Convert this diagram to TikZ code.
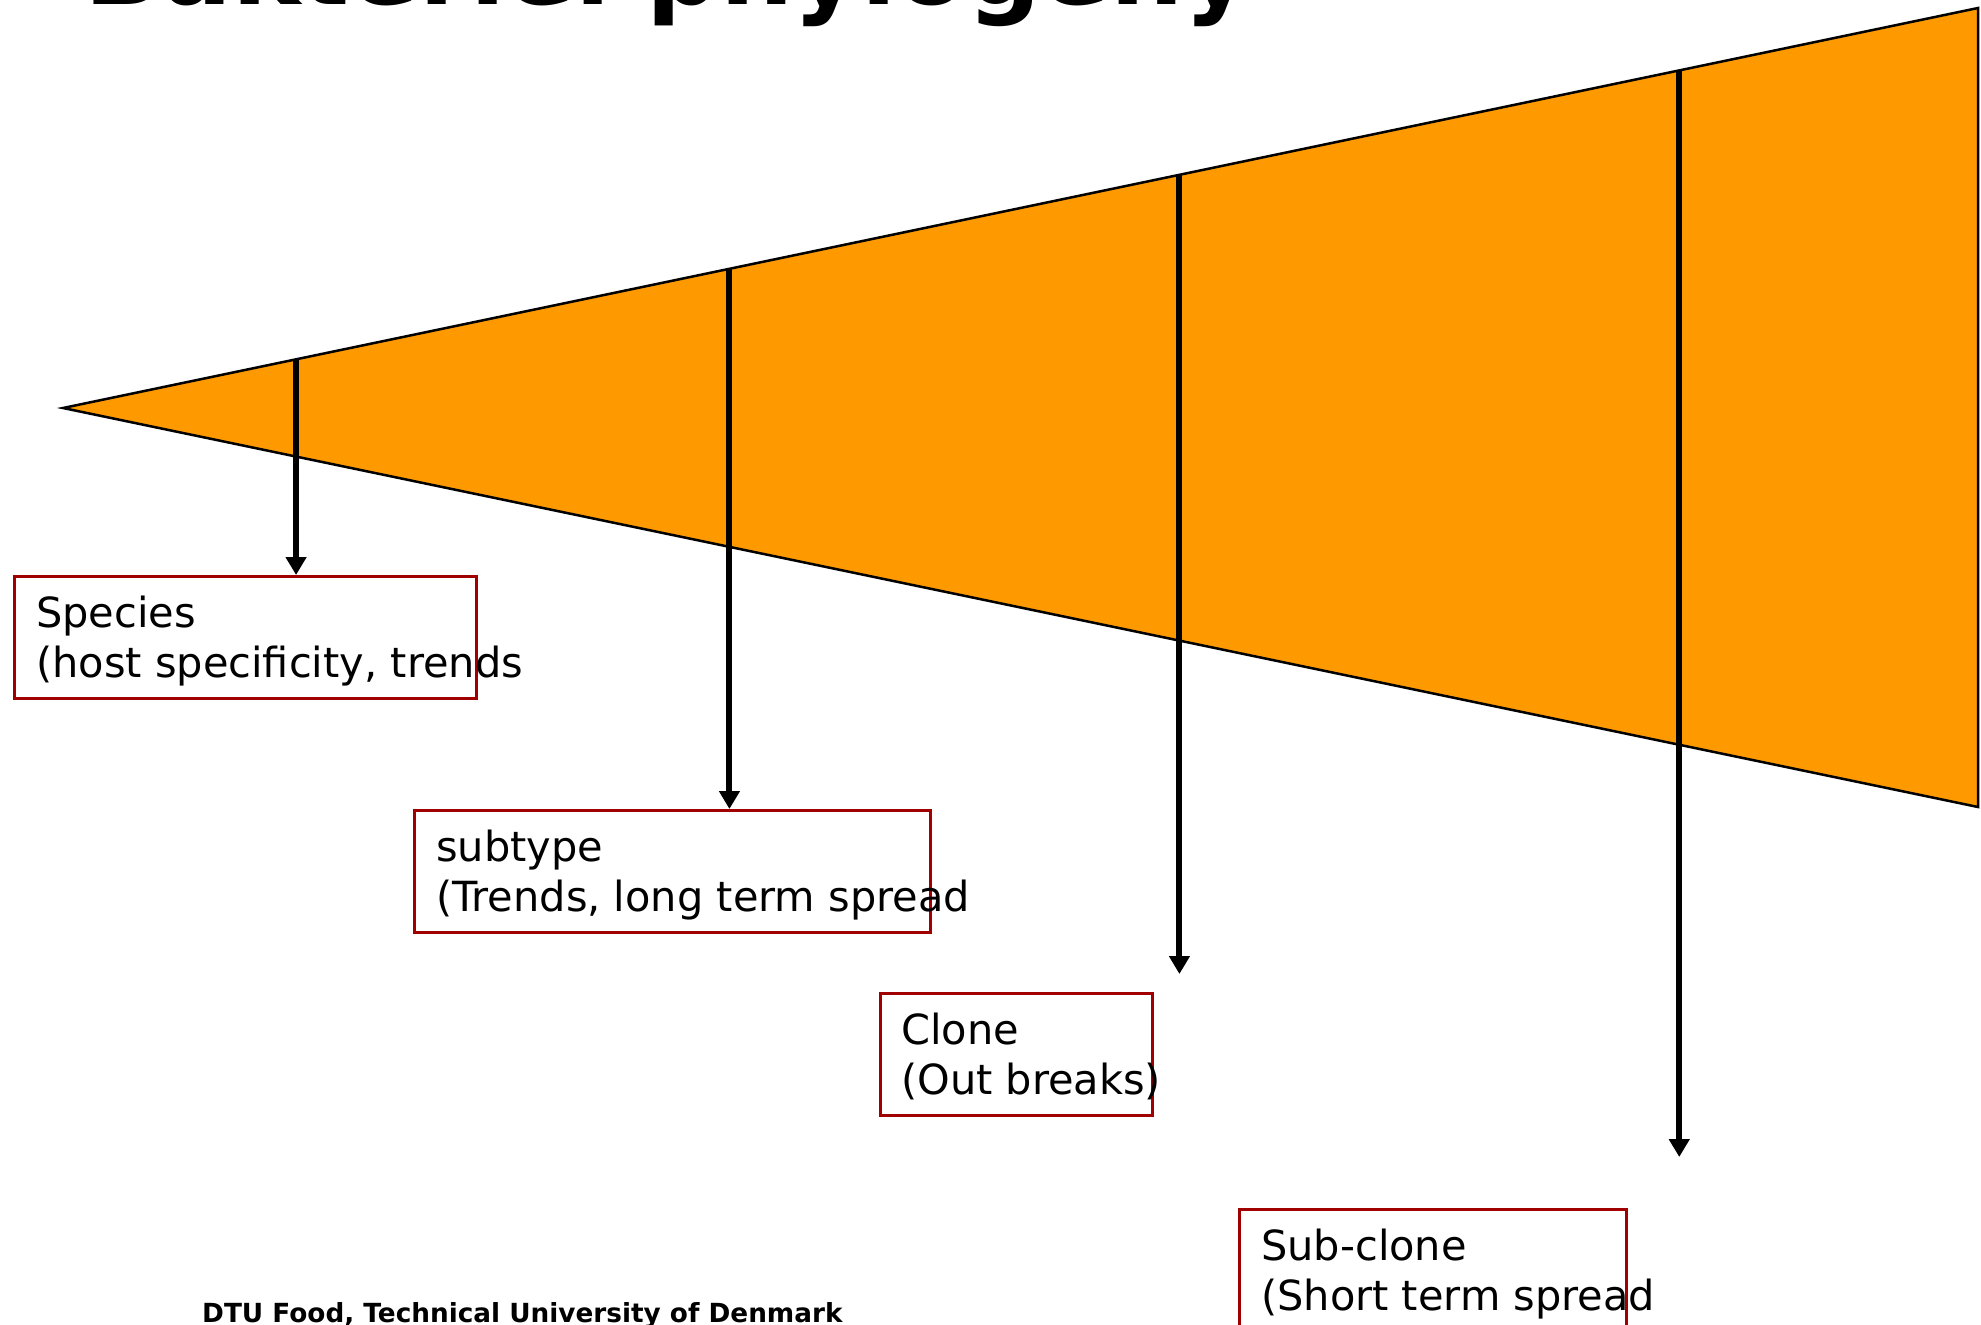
\documentclass[tikz,border=0pt]{standalone}
\usepackage{fontspec}
\setmainfont{DejaVu Sans}
\usetikzlibrary{arrows.meta,calc}
\definecolor{conefill}{RGB}{255,153,0}
\definecolor{boxred}{RGB}{160,0,0}

\begin{document}
\begin{tikzpicture}[x=1pt,y=-1pt,
    level/.style={draw=boxred,line width=2.5pt,fill=white,minimum height=122pt,inner sep=0pt,anchor=north west},
    leveltext/.style={anchor=base west,align=left,inner sep=0pt,font=\fontsize{41.5}{50}\selectfont},
    cut/.style={line width=6pt,-{Triangle[width=20pt,length=18pt]}}]

    \clip (0,0) rectangle (1981,1325);

    \node[anchor=base west,inner sep=0pt,font=\fontsize{103}{110}\selectfont\bfseries] (title) at (84,5) {Bakteriel phylogeny};

    % the cone
    \coordinate (apex) at (63,408);
    \coordinate (top) at (1978,8);
    \coordinate (bottom) at (1978,807);
    \filldraw[fill=conefill,draw=black,line width=2.5pt] (apex) -- (top) -- (bottom) -- cycle;

    \node[level,minimum width=462pt] (species) at (13,575) {};
    \node[level,minimum width=516pt] (subtype) at (413,809) {};
    \node[level,minimum width=272pt] (clone) at (879,992) {};
    \node[level,minimum width=387pt] (subclone) at (1238,1208) {};

    \node[leveltext] (speciestext) at ($(species.north west)+(23,102)$) {Species\\(host specificity, trends};
    \node[leveltext] (subtypetext) at ($(subtype.north west)+(23,102)$) {subtype\\(Trends, long term spread};
    \node[leveltext] (clonetext) at ($(clone.north west)+(22,102)$) {Clone\\(Out breaks)};
    \node[leveltext] (subclonetext) at ($(subclone.north west)+(23,102)$) {Sub-clone\\(Short term spread};

    % cuts through the cone
    \coordinate (s1) at ($(apex)!0.1217!(top)$);
    \coordinate (s2) at ($(apex)!0.348!(top)$);
    \coordinate (s3) at ($(apex)!0.583!(top)$);
    \coordinate (s4) at ($(apex)!0.844!(top)$);
    \coordinate (e3) at ($(clone.north)+(0,-18)$);
    \coordinate (e4) at ($(subclone.north)+(0,-51)$);

    \draw[cut] (s1) -- (s1 |- species.north);
    \draw[cut] (s2) -- (s2 |- subtype.north);
    \draw[cut] (s3) -- (s3 |- e3);
    \draw[cut] (s4) -- (s4 |- e4);

    \node[anchor=base west,inner sep=0pt,font=\fontsize{26.3}{30}\selectfont\bfseries] (footer) at (202,1322) {DTU Food, Technical University of Denmark};

\end{tikzpicture}
\end{document}
